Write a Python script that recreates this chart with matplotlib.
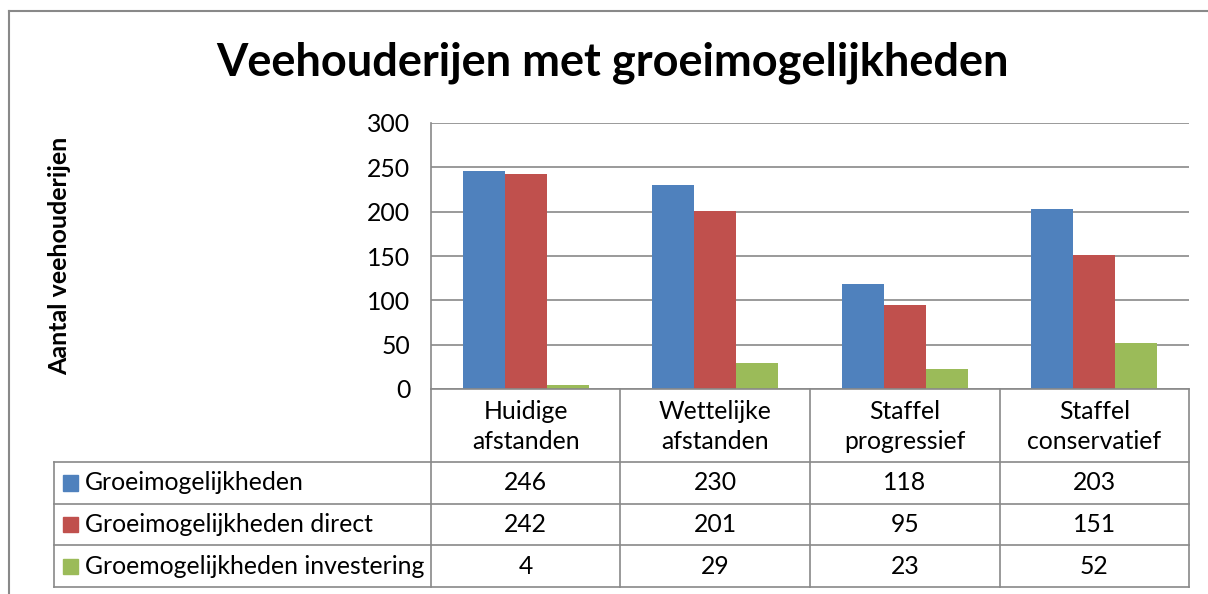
import matplotlib
matplotlib.use("Agg")
import matplotlib.pyplot as plt
from matplotlib.lines import Line2D
from matplotlib.patches import Rectangle
import numpy as np

categories = ["Huidige\nafstanden", "Wettelijke\nafstanden", "Staffel\nprogressief", "Staffel\nconservatief"]
series_names = ["Groeimogelijkheden", "Groeimogelijkheden direct", "Groemogelijkheden investering"]
groei = [246, 230, 118, 203]
groei_direct = [242, 201, 95, 151]
groei_invest = [4, 29, 23, 52]
series_values = [groei, groei_direct, groei_invest]
colors = ["#4F81BD", "#C0504D", "#9BBB59"]
yticks = [0, 50, 100, 150, 200, 250, 300]

plt.rcParams['font.family'] = ['Lato', 'DejaVu Sans']

W, H = 1208, 594
fig = plt.figure(figsize=(W / 100, H / 100), dpi=100)

def fx(x):
    return x / W

def fy(y):
    return 1 - y / H

grid_col = "#898989"
FS = 17.8

# outer chart border
fig.add_artist(Line2D([fx(9), fx(W + 5)], [fy(11), fy(11)], color=grid_col, lw=1.5, transform=fig.transFigure))
fig.add_artist(Line2D([fx(9), fx(9)], [fy(11), fy(H + 5)], color=grid_col, lw=1.5, transform=fig.transFigure))

# plot area
L, R, T, B = 431, 1189, 123, 389
ax = fig.add_axes([fx(L), fy(B), fx(R) - fx(L), fy(T) - fy(B)])
n = len(categories)
x = np.arange(n)
bw = 1 / 4.5
for i, (vals, c) in enumerate(zip(series_values, colors)):
    ax.bar(x + (i - 1) * bw, vals, width=bw, color=c, zorder=3)
ax.set_xlim(-0.5, n - 0.5)
ax.set_ylim(0, 300)
ax.set_yticks(yticks)
ax.set_yticklabels([str(v) for v in yticks], fontsize=FS)
ax.tick_params(axis='y', length=0, pad=15)
ax.set_xticks([])
ax.grid(axis='y', color=grid_col, lw=1.2, zorder=0)
for s in ["top", "right", "bottom"]:
    ax.spines[s].set_visible(False)
ax.spines["left"].set_color(grid_col)
ax.spines["left"].set_linewidth(1.2)

# title and y label
fig.text(fx(613), fy(63), "Veehouderijen met groeimogelijkheden", ha="center", va="center",
         fontsize=32.5, fontweight="bold")
fig.text(fx(60), fy(256), "Aantal veehouderijen", ha="center", va="center", rotation=90,
         fontsize=18, fontweight="bold")

# data table
col_edges = [L + (R - L) * k / n for k in range(n + 1)]
row_edges = [B, 462, 504, 545, 587]
TL = 54

def hline(x0, x1, y):
    fig.add_artist(Line2D([fx(x0), fx(x1)], [fy(y), fy(y)], color=grid_col, lw=1.2, transform=fig.transFigure))

def vline(x, y0, y1):
    fig.add_artist(Line2D([fx(x), fx(x)], [fy(y0), fy(y1)], color=grid_col, lw=1.2, transform=fig.transFigure))

hline(L, R, B)
for y in row_edges[1:]:
    hline(TL, R, y)
vline(TL, row_edges[1], row_edges[-1])
for xe in col_edges:
    vline(xe, B, row_edges[-1])

for j, cat in enumerate(categories):
    cx = (col_edges[j] + col_edges[j + 1]) / 2
    fig.text(fx(cx), fy((row_edges[0] + row_edges[1]) / 2 + 1), cat, ha="center", va="center",
             fontsize=FS, linespacing=1.38)

for i, (name, vals, c) in enumerate(zip(series_names, series_values, colors)):
    cy = (row_edges[i + 1] + row_edges[i + 2]) / 2
    fig.add_artist(Rectangle((fx(63), fy(cy + 7.5)), fx(15), fy(0) - fy(15), color=c,
                             transform=fig.transFigure))
    fig.text(fx(85), fy(cy), name, ha="left", va="center", fontsize=FS)
    for j, v in enumerate(vals):
        cx = (col_edges[j] + col_edges[j + 1]) / 2
        fig.text(fx(cx), fy(cy), str(v), ha="center", va="center", fontsize=FS)

fig.savefig("out.png", dpi=100, facecolor="white")
